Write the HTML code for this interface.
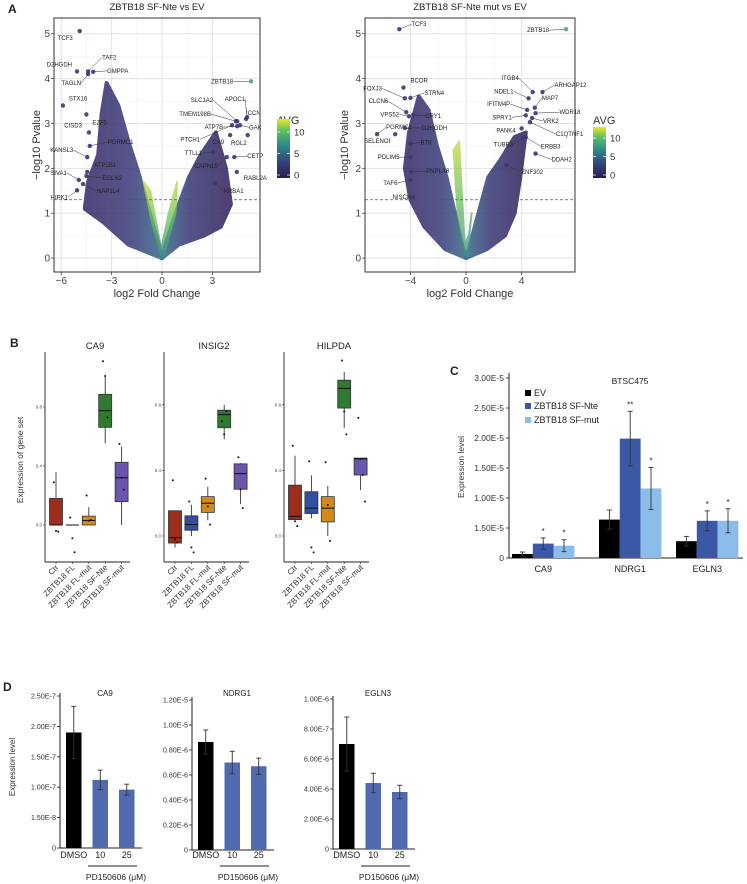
<!DOCTYPE html>
<html><head><meta charset="utf-8"><style>
html,body{margin:0;padding:0;background:#fff}
svg{display:block;font-family:"Liberation Sans",Arial,sans-serif}
</style></head><body>
<svg id="fig" width="747" height="884" viewBox="0 0 747 884" xmlns="http://www.w3.org/2000/svg">
<defs>
<linearGradient id="vir" x1="0" y1="1" x2="0" y2="0">
<stop offset="0" stop-color="#2c1c4f"/><stop offset="0.3" stop-color="#34487f"/><stop offset="0.55" stop-color="#2a8a8a"/><stop offset="0.8" stop-color="#5cbf62"/><stop offset="1" stop-color="#e8e826"/>
</linearGradient>
<linearGradient id="lobeL" x1="0" y1="0" x2="1" y2="0">
<stop offset="0" stop-color="#3b2d6a"/><stop offset="0.6" stop-color="#3f3f7c"/><stop offset="1" stop-color="#3a6e8c"/>
</linearGradient>
<linearGradient id="lobeR" x1="1" y1="0" x2="0" y2="0">
<stop offset="0" stop-color="#35275f"/><stop offset="0.6" stop-color="#3d3c78"/><stop offset="1" stop-color="#3a6e8c"/>
</linearGradient>
<linearGradient id="lobeG" x1="0" y1="1" x2="0" y2="0">
<stop offset="0" stop-color="#3f8f8a"/><stop offset="0.5" stop-color="#6cbf5c"/><stop offset="1" stop-color="#bedc3a"/>
</linearGradient>
</defs>
</svg>
<script>
const NS='http://www.w3.org/2000/svg';
const svg=document.getElementById('fig');
function mk(tag,attrs,parent,text){const e=document.createElementNS(NS,tag);for(const k in attrs)e.setAttribute(k,attrs[k]);if(text!==undefined)e.textContent=text;(parent||svg).appendChild(e);return e;}
function txt(x,y,s,size,anchor,name,extra){const e=mk('text',Object.assign({x:x,y:y,'font-size':size,'text-anchor':anchor||'middle',fill:'#222'},extra||{}),svg,s);


return e;}

// ===== Panel A data =====
const volcLeftGenes=['TCF3','TAF2','D2HGDH','GMPPA','TAGLN','STX16','E2F5','CISD3','KANSL3','PGRMC1','ATP2B1','EGLN2','SIVA1','NAP1L4','HIPK1','ZBTB18','SLC1A2','APOC1','ICCN','TMEM198B','ATP7B','GAK','PTCH1','CA9','RGL2','TTLL1','CETP','CAPN10','RABL2A','KRBA1'];
const volcLeftFC=[-4.9,-4.4,-5.06,-4.1,-4.4,-5.9,-4.5,-4.35,-4.45,-4.3,-4.45,-4.5,-4.95,-4.7,-5.06,5.3,4.47,5.06,5.0,4.4,4.47,4.64,4.17,4.05,5.1,3.04,4.3,3.85,4.45,3.15];
const volcLeftP=[5.06,4.16,4.16,4.15,4.1,3.4,3.2,2.8,2.25,2.5,1.92,1.83,1.74,1.65,1.51,3.94,3.05,3.14,3.1,3.05,2.94,2.96,2.96,2.74,2.74,2.36,2.25,2.25,1.92,1.67];
const volcLeftLabDX=[-7,14,-5,14,-7,6,6,-7,-14,18,7,16,-12,14,-9,-18,-24,-2,0,-25,-14,9,-32,-6,-1,-11,13,-9,7,9];
const volcLeftLabDY=[7,-14,-7,-1,9,-7,8,-7,-7,-4,-7,2,-7,7,7,0,-21,-18,-6,-7,1,2,14,7,8,1,-1,9,6,8];

const volcRightGenes=['TCF3','ZBTB18','BCOR','FOXJ3','STRN4','CLCN6','VPS52','CRY1','PGRMC1','D2HGDH','SELENOI','BTK','PDLIM5','PNPLA8','TAF6','NISCH','ITGB4','ARHGAP12','NDEL1','MAP7','IFITM4P','WDR18','SPRY1','VRK2','PANK4','C1QTNF1','TUBB3','ERBB3','DDAH2','ZNF302'];
const volcRightFC=[-4.8,7.2,-4.5,-4.4,-4.0,-4.3,-4.1,-3.8,-6.4,-4.4,-5.1,-4.0,-4.0,-3.95,-4.0,-3.8,4.8,5.5,4.5,4.95,4.4,5.0,4.3,4.75,4.0,4.6,4.1,4.3,5.0,2.9];
const volcRightP=[5.1,5.1,3.8,3.56,3.57,3.25,3.16,3.19,2.76,2.9,2.76,2.55,2.25,1.92,1.74,1.36,3.7,3.7,3.56,3.35,3.3,3.23,3.18,3.12,2.89,3.03,2.69,2.69,2.33,2.07];
const volcRightLabDX=[12,-17,7,-23,14,-18,-10,12,9,17,-5,10,-11,15,-13,-2,-14,12,-15,7,-17,24,-14,11,-6,26,-10,15,16,15];
const volcRightLabDY=[-5,1,-7,-10,-5,-11,-2,1,-7,0,7,-1,0,-1,3,0,-14,-7,-7,-10,-6,-1,2,3,2,12,7,9,6,7];

// cloud outlines (data units: log2FC, -log10P)
const leftCloudL=[[0,0],[-2,0.3],[-3.5,0.8],[-4.6,1.1],[-4.4,1.7],[-3.8,2.3],[-3.6,3.2],[-3.3,3.9],[-2.6,3.4],[-2.0,2.6],[-1.4,1.9],[-0.8,1.1],[-0.2,0.3]];
const leftCloudR=[[0,0],[1,0.3],[2.5,0.5],[3.5,0.7],[4.1,1.2],[3.8,2.0],[3.2,2.8],[2.3,2.3],[1.6,1.8],[0.9,1.1],[0.2,0.3]];
const leftCloudG=[[0,0],[-0.6,0.8],[-1.1,1.7],[-0.7,1.5],[-0.05,0.2],[0.4,1.0],[0.9,1.7],[0.8,1.0],[0.05,0]];
const rightCloudL=[[0,0],[-1.5,0.2],[-3,0.7],[-4,1.3],[-4.4,2.0],[-4.1,2.8],[-3.4,3.6],[-2.7,3.3],[-2.1,2.5],[-1.4,1.8],[-0.8,1.0],[-0.2,0.2]];
const rightCloudR=[[0,0],[1.5,0.2],[2.8,0.5],[3.5,1.0],[3.9,1.8],[4.3,2.8],[3.5,2.7],[2.5,2.2],[1.6,1.8],[0.8,0.9],[0.2,0.2]];
const rightCloudG=[[0,0],[-0.6,1.0],[-0.9,2.4],[-0.5,2.6],[-0.1,0.3],[0.2,0.5],[0.4,1.0],[0.1,0.05]];
const volcYTicks=[0,1,2,3,4,5];
const volcLeftXTicks=[-6,-3,0,3];
const volcRightXTicks=[-4,0,4];

function volcano(o){
  const X=v=>o.x0+(v-o.xmin)/(o.xmax-o.xmin)*(o.x1-o.x0);
  const Y=v=>o.y1-(v-o.ymin)/(o.ymax-o.ymin)*(o.y1-o.y0);
  const g=mk('g',{});
  
  
  mk('rect',{x:o.x0,y:o.y0,width:o.x1-o.x0,height:o.y1-o.y0,fill:'#fff'},g);
  for(let i=0;i<o.yt.length-1;i++){const v=(o.yt[i]+o.yt[i+1])/2;mk('line',{x1:o.x0,x2:o.x1,y1:Y(v),y2:Y(v),stroke:'#f0f0f0','stroke-width':0.6},g);}
  for(let i=0;i<o.xt.length-1;i++){const v=(o.xt[i]+o.xt[i+1])/2;mk('line',{x1:X(v),x2:X(v),y1:o.y0,y2:o.y1,stroke:'#f0f0f0','stroke-width':0.6},g);}
  o.yt.forEach(v=>{const gl=mk('line',{x1:o.x0,x2:o.x1,y1:Y(v),y2:Y(v),stroke:'#e3e3e3','stroke-width':1},g);
    
    txt(o.x0-4,Y(v)+3.5,String(v),10,'end','y-tick-label',{fill:'#444'});
    mk('line',{x1:o.x0-3,x2:o.x0,y1:Y(v),y2:Y(v),stroke:'#444','stroke-width':0.8});});
  o.xt.forEach(v=>{const gl=mk('line',{x1:X(v),x2:X(v),y1:o.y0,y2:o.y1,stroke:'#e3e3e3','stroke-width':1},g);
    
    txt(X(v),o.y1+12,String(v).replace('-','−'),10,'middle','x-tick-label',{fill:'#444'});
    mk('line',{x1:X(v),x2:X(v),y1:o.y1,y2:o.y1+3,stroke:'#444','stroke-width':0.8});});
  const poly=(pts,fill,op,nm,sw)=>{const p=mk('polygon',{points:pts.map(q=>X(q[0])+','+Y(q[1])).join(' '),fill:fill,opacity:op,'stroke':fill,'stroke-width':sw,'stroke-linejoin':'round'},g);
    };
  poly(o.cl,'url(#lobeL)',0.88,'point-cloud-down',4);
  poly(o.cr,'url(#lobeR)',0.88,'point-cloud-up',4);
  poly(o.cg,'url(#lobeG)',0.75,'point-cloud-high-avg',2);
  const dl=mk('line',{x1:o.x0,x2:o.x1,y1:Y(1.3),y2:Y(1.3),stroke:'#555','stroke-width':0.8,'stroke-dasharray':'3,2'},g);
  
  for(let i=0;i<o.genes.length;i++){
    const px=X(o.fc[i]),py=Y(o.p[i]);
    const lx=px+o.dx[i],ly=py+o.dy[i];
    if(Math.abs(o.dx[i])>8||Math.abs(o.dy[i])>8) mk('line',{x1:px,y1:py,x2:lx,y2:ly,stroke:'#333','stroke-width':0.5},g);
    const c=mk('circle',{cx:px,cy:py,r:2.2,fill:o.genes[i]==='ZBTB18'?'#5a9a8e':'#3e3670',opacity:0.9},g);
    
    
    const t=mk('text',{x:lx,y:ly+2,'font-size':6,'text-anchor':o.dx[i]<0?'end':'start',fill:'#222'},g,o.genes[i]);
    
    
  }
  const b=mk('rect',{x:o.x0,y:o.y0,width:o.x1-o.x0,height:o.y1-o.y0,fill:'none',stroke:'#333','stroke-width':1},g);
  
  txt((o.x0+o.x1)/2,10,o.title,9.5,'middle','plot-title');
  txt((o.x0+o.x1)/2,297,'log2 Fold Change',11,'middle','x-axis-title',{fill:'#333'});
  txt(0,0,'−log10 Pvalue',11,'middle','y-axis-title',{transform:'translate('+o.ylx+','+((o.y0+o.y1)/2)+') rotate(-90)',fill:'#333'});
  txt(o.lx,124,'AVG',11,'start','legend-title',{fill:'#333'});
  const cb=mk('rect',{x:o.lx,y:o.cb0,width:13,height:o.cb1-o.cb0,fill:'url(#vir)'});
  
  const cs=v=>o.cb1-3-v/13*(o.cb1-o.cb0-3);
  [0,5,10].forEach(v=>{mk('line',{x1:o.lx,x2:o.lx+3,y1:cs(v),y2:cs(v),stroke:'#fff','stroke-width':0.7});mk('line',{x1:o.lx+10,x2:o.lx+13,y1:cs(v),y2:cs(v),stroke:'#fff','stroke-width':0.7});
    txt(o.lx+17,cs(v)+3.5,String(v),9.5,'start','colorbar-tick-label',{fill:'#333'});});
}
txt(8,13,'A',12,'start','panel-label-a',{'font-weight':'bold'});
volcano({name:'volcano-sf-nte',title:'ZBTB18 SF-Nte vs EV',x0:54,x1:260,y0:18,y1:272,xmin:-6.43,xmax:5.83,ymin:-0.31,ymax:5.35,yt:volcYTicks,xt:volcLeftXTicks,genes:volcLeftGenes,fc:volcLeftFC,p:volcLeftP,dx:volcLeftLabDX,dy:volcLeftLabDY,cl:leftCloudL,cr:leftCloudR,cg:leftCloudG,ylx:40,lx:277,cb0:119,cb1:178});
volcano({name:'volcano-sf-nte-mut',title:'ZBTB18 SF-Nte mut vs EV',x0:365,x1:575,y0:18,y1:272,xmin:-7.27,xmax:7.84,ymin:-0.31,ymax:5.35,yt:volcYTicks,xt:volcRightXTicks,genes:volcRightGenes,fc:volcRightFC,p:volcRightP,dx:volcRightLabDX,dy:volcRightLabDY,cl:rightCloudL,cr:rightCloudR,cg:rightCloudG,ylx:348,lx:593,cb0:127,cb1:178});

// ===== Panel B data =====
const boxGroups=['Ctr','ZBTB18 FL','ZBTB18 FL-mut','ZBTB18 SF-Nte','ZBTB18 SF-mut'];
const boxColors=['#9a2d1c','#2f4f9f','#d4891f','#2f7a30','#6a55ad'];
const ca9Q1=[0.0,0.0,0.0,0.662,0.158], ca9Med=[0.0,0.0,0.03,0.775,0.32], ca9Q3=[0.18,0.0,0.06,0.886,0.425], ca9Lo=[0.0,0.0,0.0,0.554,0.0], ca9Hi=[0.36,0.0,0.12,1.01,0.53];
const ca9Pts=[[0.29,-0.04,-0.045],[0.05,-0.09,-0.185],[0.2,0.03,0.035],[1.11,1.01,0.73],[0.55,0.32,0.24]];
const insQ1=[-0.043,0.035,0.144,0.66,0.285], insMed=[-0.01,0.07,0.2,0.74,0.38], insQ3=[0.154,0.123,0.24,0.767,0.44], insLo=[-0.07,0.0,0.096,0.59,0.195], insHi=[0.154,0.19,0.3,0.8,0.445];
const insPts=[[0.34,-0.02,-0.04],[0.21,-0.07,-0.1],[0.35,0.18,0.07],[0.7,0.62,0.76],[0.48,0.285,0.17]];
const hilQ1=[0.1,0.137,0.086,0.78,0.372], hilMed=[0.12,0.17,0.17,0.9,0.47], hilQ3=[0.31,0.27,0.24,0.95,0.475], hilLo=[0.1,0.107,0.0,0.66,0.28], hilHi=[0.49,0.37,0.305,1.0,0.475];
const hilPts=[[0.55,0.09,0.06],[0.455,-0.07,-0.1],[0.45,0.19,-0.03],[1.07,0.76,0.62],[0.72,0.47,0.372,0.21]];
const boxYTicks=[0.0,0.4,0.8];

function boxplot(o){
  const Y=v=>o.zero-v*o.k;
  const g=mk('g',{});
  
  
  txt(o.ax+50,349,o.title,9.5,'middle','boxplot-title');
  mk('line',{x1:o.ax,x2:o.ax,y1:352,y2:562,stroke:'#222','stroke-width':0.9},g);
  mk('line',{x1:o.ax,x2:o.ax+85,y1:562,y2:562,stroke:'#222','stroke-width':0.9},g);
  boxYTicks.forEach(v=>{mk('line',{x1:o.ax-2,x2:o.ax,y1:Y(v),y2:Y(v),stroke:'#222','stroke-width':0.6},g);
    txt(o.ax-3,Y(v)+1.5,v.toFixed(1),4.5,'end','y-tick-label',{fill:'#444'});});
  for(let i=0;i<5;i++){
    const cx=o.ax+11+i*16.4,w=13;
    mk('line',{x1:cx,x2:cx,y1:Y(o.hi[i]),y2:Y(o.lo[i]),stroke:'#333','stroke-width':0.9},g);
    const b=mk('rect',{x:cx-w/2,y:Y(o.q3[i]),width:w,height:Math.max(0,Y(o.q1[i])-Y(o.q3[i])),fill:boxColors[i],stroke:'#333','stroke-width':0.8},g);
    
    
    mk('line',{x1:cx-w/2,x2:cx+w/2,y1:Y(o.med[i]),y2:Y(o.med[i]),stroke:'#111','stroke-width':1},g);
    o.pts[i].forEach((v,j)=>{mk('circle',{cx:cx+(j-1)*2.2,cy:Y(v),r:1,fill:'#111'},g);});
    mk('line',{x1:cx,x2:cx,y1:562,y2:564,stroke:'#222','stroke-width':0.6},g);
    txt(0,0,boxGroups[i],8,'end','x-tick-label',{transform:'translate('+(cx+3)+',568) rotate(-45)',fill:'#333'});
  }
}
txt(10,347,'B',12,'start','panel-label-b',{'font-weight':'bold'});
txt(0,0,'Expression  of gene set',8.5,'middle','y-axis-title',{transform:'translate(23,460) rotate(-90)',fill:'#333'});
boxplot({name:'boxplot-ca9',title:'CA9',ax:45,zero:525,k:147.5,q1:ca9Q1,med:ca9Med,q3:ca9Q3,lo:ca9Lo,hi:ca9Hi,pts:ca9Pts});
boxplot({name:'boxplot-insig2',title:'INSIG2',ax:164,zero:536,k:164,q1:insQ1,med:insMed,q3:insQ3,lo:insLo,hi:insHi,pts:insPts});
boxplot({name:'boxplot-hilpda',title:'HILPDA',ax:284,zero:536,k:164,q1:hilQ1,med:hilMed,q3:hilQ3,lo:hilLo,hi:hilHi,pts:hilPts});

// ===== Panel C data =====
const cGenes=['CA9','NDRG1','EGLN3'];
const cSeries=['EV','ZBTB18 SF-Nte','ZBTB18 SF-mut'];
const cColors=['#000000','#3a58a6','#8cbdea'];
const cEV=[0.067,0.64,0.28], cEVErr=[0.033,0.16,0.08];
const cNte=[0.24,1.99,0.62], cNteErr=[0.095,0.455,0.165];
const cMut=[0.205,1.16,0.62], cMutErr=[0.1,0.35,0.2];
const cStars=[['','*','*'],['','**','*'],['','*','*']];
const cTickLabels=['0','1.50E-5','1.00E-5','1.50E-5','2.00E-5','2.50E-5','3.00E-5'];
const cTickVals=[0,0.5,1.0,1.5,2.0,2.5,3.0];
(function(){
  const Y=v=>558-v*60;
  const g=mk('g',{});
  
  
  txt(450,375,'C',12,'start','panel-label-c',{'font-weight':'bold'});
  mk('line',{x1:509,x2:509,y1:373,y2:558,stroke:'#222','stroke-width':1},g);
  mk('line',{x1:509,x2:743,y1:558,y2:558,stroke:'#222','stroke-width':1},g);
  cTickVals.forEach((v,i)=>{mk('line',{x1:506,x2:509,y1:Y(v),y2:Y(v),stroke:'#222','stroke-width':0.8},g);
    txt(504,Y(v)+3,cTickLabels[i],8.5,'end','y-tick-label',{fill:'#333'});});
  txt(630,384,'BTSC475',8.5,'middle','chart-title');
  txt(0,0,'Expression level',8.5,'middle','y-axis-title',{transform:'translate(464,467) rotate(-90)',fill:'#333'});
  const vals=[cEV,cNte,cMut],errs=[cEVErr,cNteErr,cMutErr];
  const gx=[512,599,676],bw=20.8;
  for(let gi=0;gi<3;gi++){
    for(let s=0;s<3;s++){
      const x=gx[gi]+s*bw,v=vals[s][gi],e=errs[s][gi];
      const r=mk('rect',{x:x,y:Y(v),width:bw,height:558-Y(v),fill:cColors[s]},g);
      
      
      const cx=x+bw/2;
      mk('line',{x1:cx,x2:cx,y1:Y(v+e),y2:Y(Math.max(0,v-e)),stroke:'#333','stroke-width':0.9},g);
      mk('line',{x1:cx-2.5,x2:cx+2.5,y1:Y(v+e),y2:Y(v+e),stroke:'#333','stroke-width':0.9},g);
      mk('line',{x1:cx-2.5,x2:cx+2.5,y1:Y(Math.max(0,v-e)),y2:Y(Math.max(0,v-e)),stroke:'#333','stroke-width':0.9},g);
      if(cStars[gi][s]) txt(cx,Y(v+e)-4,cStars[gi][s],8,'middle','significance-star');
    }
    txt(gx[gi]+1.5*bw,572,cGenes[gi],9,'middle','x-tick-label',{fill:'#222'});
  }
  const ly=[396,409,423];
  for(let s=0;s<3;s++){
    const r=mk('rect',{x:525,y:ly[s]-6,width:6,height:6,fill:cColors[s]},g);
    
    txt(534,ly[s],cSeries[s],9,'start','legend-entry');
  }
})();

// ===== Panel D data =====
const dGroups=['DMSO','10','25'];
const dColors=['#000000','#5169ae','#5169ae'];
const dCA9=[1.9,1.12,0.96], dCA9Err=[0.43,0.16,0.09];
const dNDRG1=[0.864,0.70,0.67], dNDRG1Err=[0.096,0.09,0.065];
const dEGLN3=[0.70,0.44,0.38], dEGLN3Err=[0.18,0.065,0.045];
const dCA9Ticks=['0','1.50E-8','1.00E-7','1.50E-7','2.00E-7','2.50E-7'], dCA9TickVals=[0,0.5,1.0,1.5,2.0,2.5];
const dNDRG1Ticks=['0','0.20E-6','0.40E-6','0.60E-6','0.80E-6','1.00E-5','1.20E-5'], dNDRG1TickVals=[0,0.2,0.4,0.6,0.8,1.0,1.2];
const dEGLN3Ticks=['0','2.00E-6','4.00E-6','6.00E-6','8.00E-7','1.00E-6'], dEGLN3TickVals=[0,0.2,0.4,0.6,0.8,1.0];
function dchart(o){
  const Y=v=>o.base-v*o.k;
  const g=mk('g',{});
  
  
  mk('line',{x1:o.ax,x2:o.ax,y1:o.top,y2:o.base,stroke:'#222','stroke-width':1},g);
  mk('line',{x1:o.ax,x2:o.ax+82,y1:o.base,y2:o.base,stroke:'#222','stroke-width':1},g);
  o.tv.forEach((v,i)=>{mk('line',{x1:o.ax-3,x2:o.ax,y1:Y(v),y2:Y(v),stroke:'#222','stroke-width':0.8},g);
    txt(o.ax-4,Y(v)+2.5,o.tl[i],7.2,'end','y-tick-label',{fill:'#333'});});
  txt(o.ax+45,o.titleY,o.title,8,'middle','chart-title');
  for(let i=0;i<3;i++){
    const x=o.ax+6+i*26.5,w=15.5,v=o.vals[i],e=o.errs[i];
    const r=mk('rect',{x:x,y:Y(v),width:w,height:o.base-Y(v),fill:dColors[i]},g);
    
    
    const cx=x+w/2;
    mk('line',{x1:cx,x2:cx,y1:Y(v+e),y2:Y(v-e),stroke:'#333','stroke-width':0.9},g);
    mk('line',{x1:cx-2.5,x2:cx+2.5,y1:Y(v+e),y2:Y(v+e),stroke:'#333','stroke-width':0.9},g);
    mk('line',{x1:cx-2.5,x2:cx+2.5,y1:Y(v-e),y2:Y(v-e),stroke:'#333','stroke-width':0.9},g);
    txt(cx,858,dGroups[i],9,'middle','x-tick-label');
  }
  mk('line',{x1:o.ax+28,x2:o.ax+77,y1:866,y2:866,stroke:'#222','stroke-width':0.9},g);
  txt(o.ax+56,880,'PD150606 (μM)',8.5,'middle','x-axis-title');
}
txt(3,691,'D',12,'start','panel-label-d',{'font-weight':'bold'});
txt(0,0,'Expression level',8,'middle','y-axis-title',{transform:'translate(15,767) rotate(-90)',fill:'#333'});
dchart({name:'bar-chart-d-ca9',title:'CA9',ax:60,top:693,base:848,k:60.8,tv:dCA9TickVals,tl:dCA9Ticks,vals:dCA9,errs:dCA9Err,titleY:696});
dchart({name:'bar-chart-d-ndrg1',title:'NDRG1',ax:192,top:697,base:850,k:125,tv:dNDRG1TickVals,tl:dNDRG1Ticks,vals:dNDRG1,errs:dNDRG1Err,titleY:696});
dchart({name:'bar-chart-d-egln3',title:'EGLN3',ax:333,top:696,base:849,k:150,tv:dEGLN3TickVals,tl:dEGLN3Ticks,vals:dEGLN3,errs:dEGLN3Err,titleY:696});
</script>
</body></html>
